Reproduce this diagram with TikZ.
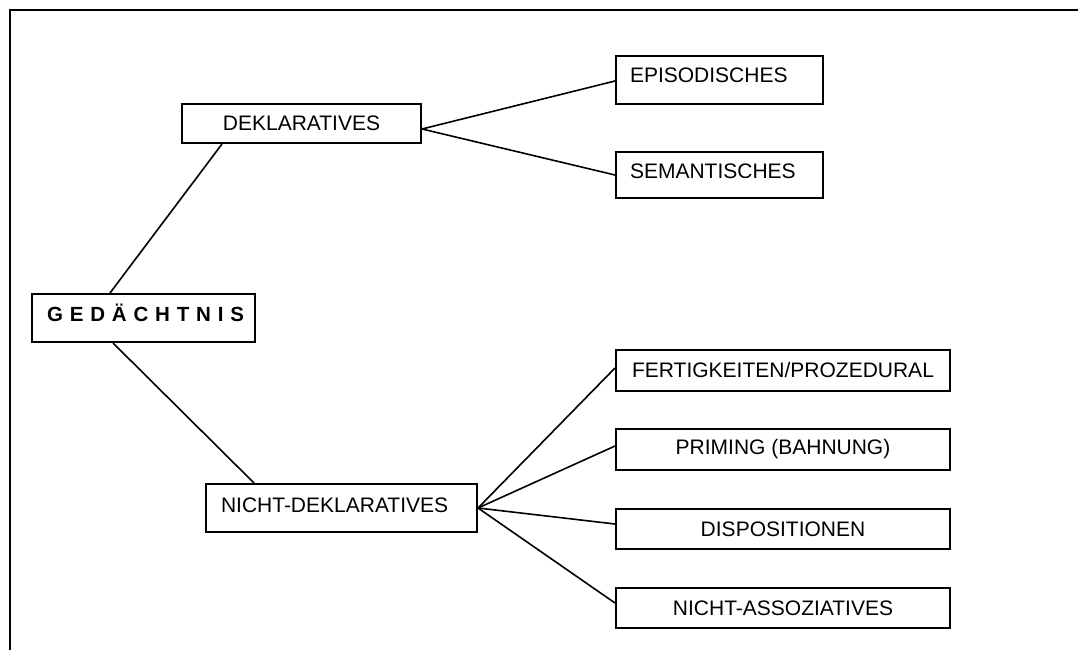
\documentclass[tikz,border=0pt]{standalone}
\usepackage{fontspec}
\setmainfont{Liberation Sans}
\tikzset{
  box/.style={draw, line width=2pt, rectangle, inner ysep=0pt, inner xsep=0pt,
    font=\fontsize{21}{24}\selectfont, text height=15pt},
  leftbox/.style={box, align=left, inner xsep=14pt, text width=#1},
  conn/.style={line width=1.6pt},
  frame/.style={line width=2.2pt}
}
\begin{document}
\begin{tikzpicture}[x=1pt,y=-1pt]
\useasboundingbox (0,0) rectangle (1078,650);
\draw[frame] (1078,10) -- (10,10) -- (10,650);

\node[box, minimum width=239pt, minimum height=39pt] (dekl) at (301.5,123.5) {DEKLARATIVES};
\node[leftbox=179pt, minimum height=48pt, text depth=10pt] (epis) at (719.5,80) {EPISODISCHES};
\node[leftbox=179pt, minimum height=46pt, text depth=9pt] (sem) at (719.5,175) {SEMANTISCHES};
\node[leftbox=193pt, inner xsep=15pt, minimum height=48pt, text depth=8pt, font=\fontsize{20.5}{24}\selectfont\bfseries] (ged) at (143.5,318) {\mbox{G E D Ä C H T N I S}};
\node[leftbox=241pt, inner xsep=15pt, minimum height=48pt, text depth=7pt] (nd) at (341.5,508) {NICHT-DEKLARATIVES};
\node[box, minimum width=334pt, minimum height=41pt] (fert) at (783,370.5) {FERTIGKEITEN/PROZEDURAL};
\node[box, minimum width=334pt, minimum height=41pt] (prim) at (783,449.5) {PRIMING (BAHNUNG)};
\node[box, minimum width=334pt, minimum height=40pt] (disp) at (783,529) {DISPOSITIONEN};
\node[box, minimum width=334pt, minimum height=40pt] (na) at (783,608) {NICHT-ASSOZIATIVES};

\draw[conn] ([xshift=-33.5pt]ged.north) -- ([xshift=-79.5pt]dekl.south);
\draw[conn] ([xshift=-30.5pt]ged.south) -- ([xshift=-87.5pt]nd.north);
\draw[conn] ([yshift=-5.5pt]dekl.east) -- ([yshift=-1pt]epis.west);
\draw[conn] ([yshift=-5.5pt]dekl.east) -- (sem.west);
\draw[conn] (nd.east) -- ([yshift=2.5pt]fert.west);
\draw[conn] (nd.east) -- ([yshift=3.5pt]prim.west);
\draw[conn] (nd.east) -- ([yshift=5pt]disp.west);
\draw[conn] (nd.east) -- ([yshift=5pt]na.west);
\end{tikzpicture}
\end{document}
